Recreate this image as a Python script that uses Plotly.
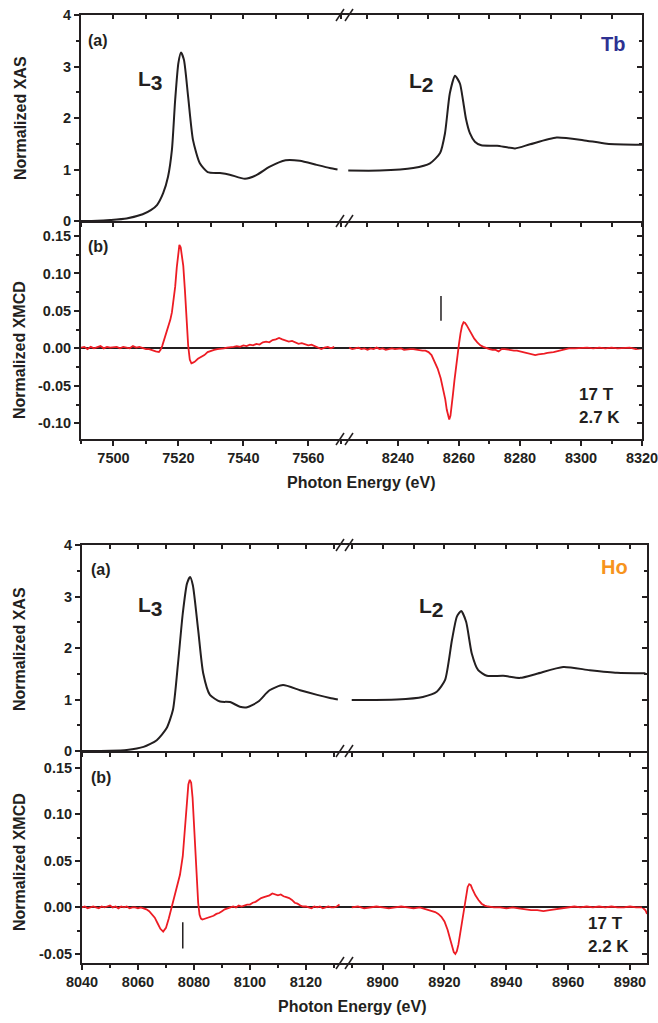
import plotly.graph_objects as go

# ---------------- DATA ----------------
# Tb, panel (a): normalized XAS (energy eV, value)
tb_xas_l3 = [(7490, 0.0), (7495, 0.005), (7499, 0.02), (7504, 0.05), (7509, 0.13), (7511.5, 0.21),
             (7513.4, 0.31), (7515.3, 0.54), (7516.8, 0.86), (7518, 1.38), (7519, 2.35), (7520, 3.07),
             (7520.8, 3.27), (7521.7, 3.13), (7523, 2.41), (7524.5, 1.57), (7526.6, 1.12), (7529, 0.95),
             (7532.8, 0.93), (7535.8, 0.90), (7540.5, 0.82), (7544, 0.89), (7548, 1.05), (7553, 1.18),
             (7557.4, 1.17), (7562.6, 1.09), (7566.6, 1.03), (7569, 1.0)]
tb_xas_l2 = [(8223.7, 0.98), (8234, 0.98), (8245, 1.03), (8250.5, 1.12), (8253.8, 1.32), (8255.4, 1.70),
             (8257, 2.48), (8258.7, 2.82), (8260.3, 2.67), (8261.3, 2.35), (8262.3, 1.98), (8263.6, 1.70),
             (8265.2, 1.54), (8267.3, 1.47), (8272.5, 1.46), (8278.4, 1.41), (8283.3, 1.49), (8292, 1.62),
             (8300.7, 1.57), (8308.5, 1.50), (8320, 1.48)]
# Tb, panel (b): normalized XMCD
tb_xmcd_l3 = [(7490, 0.001), (7491, 0.002), (7492, -0.001), (7493, 0.002), (7494, 0.000), (7495, 0.001),
              (7496, 0.003), (7497, 0.000), (7498, 0.002), (7499, 0.001), (7500, 0.001), (7501, 0.002),
              (7502, 0.000), (7503, 0.002), (7504, 0.001), (7505, 0.000), (7506, 0.003), (7507, 0.001),
              (7508, 0.002), (7509, 0.000), (7510, -0.001), (7511, -0.001), (7512, -0.003), (7513, -0.004),
              (7514, -0.005), (7514.5, -0.002), (7515, 0.003), (7515.5, 0.010), (7516, 0.016), (7516.5, 0.022),
              (7517, 0.030), (7517.5, 0.038), (7518, 0.048), (7518.5, 0.062), (7519, 0.082), (7519.5, 0.108),
              (7520, 0.132), (7520.3, 0.138), (7520.7, 0.135), (7521, 0.127), (7521.5, 0.110), (7522, 0.078),
              (7522.5, 0.040), (7523, 0.004), (7523.5, -0.015), (7524, -0.020), (7524.5, -0.019), (7525, -0.018),
              (7526, -0.014), (7527, -0.012), (7528, -0.009), (7529, -0.005), (7530, -0.003), (7531, -0.002),
              (7532, -0.001), (7533, -0.001), (7534, 0.000), (7535, 0.001), (7536, 0.001), (7537, 0.002),
              (7538, 0.003), (7539, 0.002), (7540, 0.004), (7541, 0.003), (7542, 0.005), (7543, 0.004),
              (7544, 0.006), (7545, 0.005), (7546, 0.008), (7547, 0.009), (7548, 0.008), (7549, 0.011),
              (7550, 0.012), (7551, 0.014), (7552, 0.012), (7553, 0.011), (7554, 0.009), (7555, 0.010),
              (7556, 0.008), (7557, 0.006), (7558, 0.007), (7559, 0.005), (7560, 0.004), (7561, 0.005),
              (7562, 0.003), (7563, 0.002), (7564, -0.001), (7565, 0.001), (7566, 0.002), (7567, 0.000),
              (7568, 0.002)]
tb_xmcd_l2 = [(8224, 0.001), (8225, -0.001), (8226, 0.000), (8227, 0.001), (8228, -0.001), (8229, 0.000),
              (8230, -0.002), (8231, 0.000), (8232, -0.001), (8233, 0.001), (8234, -0.001), (8235, 0.000),
              (8236, -0.002), (8237, -0.001), (8238, 0.000), (8239, -0.001), (8240, -0.001), (8241, 0.000),
              (8242, -0.002), (8243, -0.001), (8244, -0.001), (8245, -0.001), (8246, -0.002), (8247, -0.002),
              (8248, -0.003), (8249, -0.003), (8250, -0.005), (8251, -0.009), (8252, -0.017), (8253, -0.027),
              (8254, -0.040), (8255, -0.057), (8255.5, -0.068), (8256, -0.082), (8256.5, -0.093), (8256.8, -0.095),
              (8257.2, -0.090), (8257.6, -0.078), (8258, -0.062), (8258.5, -0.043), (8259, -0.025), (8259.5, -0.008),
              (8260, 0.006), (8260.5, 0.020), (8261, 0.030), (8261.5, 0.035), (8262, 0.034), (8262.5, 0.031),
              (8263, 0.027), (8264, 0.020), (8265, 0.013), (8266, 0.008), (8267, 0.004), (8268, 0.002),
              (8269, 0.000), (8270, -0.001), (8271, -0.002), (8272, -0.002), (8273, -0.004), (8274, -0.001),
              (8275, -0.001), (8276, -0.002), (8277, -0.002), (8278, -0.003), (8279, -0.003), (8280, -0.004),
              (8281, -0.005), (8282, -0.006), (8283, -0.007), (8284, -0.008), (8285, -0.009), (8286, -0.008),
              (8287, -0.008), (8288, -0.007), (8289, -0.006), (8290, -0.006), (8291, -0.005), (8292, -0.004),
              (8293, -0.003), (8294, -0.002), (8295, -0.001), (8296, 0.000), (8298, 0.000), (8300, 0.001),
              (8302, 0.001), (8304, 0.000), (8306, 0.001), (8308, 0.000), (8310, 0.001), (8312, 0.000),
              (8314, 0.000), (8316, 0.001), (8318, -0.001), (8320, 0.000)]
tb_marker = [(8254.1, 0.037), (8254.1, 0.070)]

# Ho, panel (a): normalized XAS
ho_xas_l3 = [(8040, 0.0), (8050, 0.005), (8056, 0.02), (8062, 0.08), (8066.7, 0.21), (8070.2, 0.44),
             (8072.5, 0.80), (8074.3, 1.70), (8076, 2.67), (8077.5, 3.25), (8078.6, 3.38), (8079.6, 3.22),
             (8081.5, 2.35), (8083.3, 1.51), (8085.7, 1.09), (8089.3, 0.96), (8092.9, 0.95), (8096.4, 0.86),
             (8099, 0.85), (8103, 0.96), (8107, 1.18), (8111.8, 1.28), (8117.9, 1.18), (8124, 1.09),
             (8128.6, 1.03), (8131.4, 1.0)]
ho_xas_l2 = [(8890, 0.99), (8904.6, 1.0), (8913, 1.05), (8917.5, 1.15), (8920.2, 1.38), (8922.4, 2.15),
             (8924, 2.61), (8925.4, 2.72), (8927, 2.51), (8928.8, 1.90), (8930.9, 1.57), (8933.7, 1.46),
             (8939, 1.46), (8944.5, 1.42), (8949.9, 1.50), (8958.4, 1.63), (8967, 1.57), (8975.8, 1.52),
             (8985, 1.51)]
# Ho, panel (b): normalized XMCD
ho_xmcd_l3 = [(8040, 0.000), (8041, 0.001), (8042, -0.001), (8043, 0.000), (8044, 0.001), (8045, 0.000),
              (8046, -0.001), (8047, 0.001), (8048, 0.000), (8049, 0.001), (8050, 0.002), (8051, 0.000),
              (8052, 0.001), (8053, -0.001), (8054, 0.001), (8055, 0.000), (8056, 0.001), (8057, -0.001),
              (8058, 0.000), (8059, 0.000), (8060, -0.001), (8061, 0.000), (8062, -0.001), (8063, -0.002),
              (8064, -0.004), (8065, -0.007), (8066, -0.011), (8067, -0.017), (8068, -0.023), (8069, -0.026),
              (8070, -0.022), (8071, -0.012), (8072, 0.000), (8073, 0.012), (8074, 0.024), (8075, 0.035),
              (8076, 0.055), (8077, 0.092), (8077.5, 0.115), (8078, 0.132), (8078.5, 0.137), (8079, 0.134),
              (8079.5, 0.118), (8080, 0.090), (8080.5, 0.055), (8081, 0.025), (8081.5, 0.005), (8082, -0.008),
              (8082.5, -0.012), (8083, -0.013), (8084, -0.012), (8085, -0.011), (8086, -0.010), (8087, -0.009),
              (8088, -0.007), (8089, -0.006), (8090, -0.004), (8091, -0.002), (8092, -0.001), (8093, 0.000),
              (8094, 0.001), (8095, 0.000), (8096, 0.002), (8097, 0.001), (8098, 0.002), (8099, 0.003),
              (8100, 0.003), (8101, 0.005), (8102, 0.006), (8103, 0.008), (8104, 0.010), (8105, 0.011),
              (8106, 0.012), (8107, 0.013), (8108, 0.015), (8109, 0.014), (8110, 0.013), (8111, 0.014),
              (8112, 0.012), (8113, 0.011), (8114, 0.010), (8115, 0.008), (8116, 0.005), (8117, 0.004),
              (8118, 0.002), (8119, 0.001), (8120, 0.001), (8121, 0.000), (8122, -0.001), (8123, 0.001),
              (8124, 0.000), (8125, 0.001), (8126, -0.001), (8127, 0.000), (8128, 0.001), (8129, 0.000),
              (8130, 0.000), (8131, 0.001), (8132, 0.003)]
ho_xmcd_l2 = [(8890, 0.000), (8892, 0.001), (8894, -0.001), (8896, 0.000), (8898, 0.001), (8900, 0.000),
              (8902, -0.001), (8904, 0.000), (8906, 0.001), (8908, 0.000), (8910, -0.001), (8912, 0.000),
              (8913, -0.001), (8914, -0.002), (8915, -0.003), (8916, -0.004), (8917, -0.005), (8918, -0.007),
              (8919, -0.010), (8920, -0.015), (8921, -0.024), (8922, -0.036), (8922.5, -0.043), (8923, -0.048),
              (8923.5, -0.050), (8924, -0.047), (8924.5, -0.040), (8925, -0.030), (8925.5, -0.019), (8926, -0.008),
              (8926.5, 0.004), (8927, 0.015), (8927.5, 0.022), (8928, 0.025), (8928.5, 0.024), (8929, 0.020),
              (8930, 0.013), (8931, 0.008), (8932, 0.004), (8933, 0.002), (8934, 0.001), (8936, 0.000),
              (8938, 0.000), (8940, -0.001), (8942, 0.000), (8944, -0.001), (8946, -0.002), (8948, -0.003),
              (8950, -0.003), (8952, -0.004), (8954, -0.003), (8956, -0.002), (8958, -0.001), (8960, 0.000),
              (8962, 0.001), (8964, 0.000), (8966, 0.001), (8968, 0.000), (8970, 0.001), (8972, 0.000),
              (8974, 0.001), (8976, 0.000), (8978, 0.000), (8980, 0.001), (8982, 0.000), (8984, 0.000),
              (8985, -0.003), (8985.5, -0.007)]
ho_marker = [(8076.0, -0.044), (8076.0, -0.016)]

# tick values / labels
xas_ticks = [0, 1, 2, 3, 4]
xas_ticktext = ["0", "1", "2", "3", "4"]
tb_xmcd_ticks = [-0.10, -0.05, 0.0, 0.05, 0.10, 0.15]
tb_xmcd_ticktext = ["-0.10", "-0.05", "0.00", "0.05", "0.10", "0.15"]
ho_xmcd_ticks = [-0.05, 0.0, 0.05, 0.10, 0.15]
ho_xmcd_ticktext = ["-0.05", "0.00", "0.05", "0.10", "0.15"]
tb_x_ticks_l = [7500, 7520, 7540, 7560]
tb_x_ticks_r = [8240, 8260, 8280, 8300, 8320]
ho_x_ticks_l = [8040, 8060, 8080, 8100, 8120]
ho_x_ticks_r = [8900, 8920, 8940, 8960, 8980]

# ---------------- STYLE / LAYOUT ----------------
W, H = 658, 1023
FONT = "Liberation Sans, Arial, sans-serif"
BLACK = "#231F20"
RED = "#ED1C24"
TB_COLOR = "#2E3192"
HO_COLOR = "#F7941D"


def fx(p):
    return p / W


def fy(p):
    return 1 - p / H


def ref(kind, n):
    return kind if n == 1 else f"{kind}{n}"


def key(kind, n):
    return f"{kind}axis" if n == 1 else f"{kind}axis{n}"


fig = go.Figure()
layout_axes = {}
counter = [0]


def nid():
    counter[0] += 1
    return counter[0]


TICKFONT = dict(family=FONT, size=14.5, color=BLACK, weight="bold")

blocks = [
    dict(
        xdom={"L": (81, 344), "R": (344, 642)},
        xrange={"L": [7490, 7571], "R": [8222.3, 8320]},
        ydom={"a": (15, 221), "b": (221, 439)},
        yrange={"a": [0, 4], "b": [-0.121, 0.17]},
        xticks={"L": tb_x_ticks_l, "R": tb_x_ticks_r},
        yticks={"a": (xas_ticks, xas_ticktext), "b": (tb_xmcd_ticks, tb_xmcd_ticktext)},
        xas={"L": tb_xas_l3, "R": tb_xas_l2},
        xmcd={"L": tb_xmcd_l3, "R": tb_xmcd_l2},
        marker=("R", tb_marker),
    ),
    dict(
        xdom={"L": (82, 344), "R": (344, 647)},
        xrange={"L": [8040, 8133.6], "R": [8887.5, 8985.5]},
        ydom={"a": (545, 751), "b": (751, 963)},
        yrange={"a": [0, 4], "b": [-0.0597, 0.168]},
        xticks={"L": ho_x_ticks_l, "R": ho_x_ticks_r},
        yticks={"a": (xas_ticks, xas_ticktext), "b": (ho_xmcd_ticks, ho_xmcd_ticktext)},
        xas={"L": ho_xas_l3, "R": ho_xas_l2},
        xmcd={"L": ho_xmcd_l3, "R": ho_xmcd_l2},
        marker=("L", ho_marker),
    ),
]


def curve(pts, xref, yref, color, width, spline=False, opacity=1.0):
    line = dict(color=color, width=width)
    if spline:
        line.update(shape="spline", smoothing=0.6)
    return go.Scatter(x=[p[0] for p in pts], y=[p[1] for p in pts], mode="lines", line=line,
                      xaxis=xref, yaxis=yref, showlegend=False, hoverinfo="skip", opacity=opacity)


for b in blocks:
    for panel in ("a", "b"):
        for seg in ("L", "R"):
            k = nid()
            xd = [fx(b["xdom"][seg][0]), fx(b["xdom"][seg][1])]
            yd = [fy(b["ydom"][panel][1]), fy(b["ydom"][panel][0])]
            xr = b["xrange"][seg]
            yr = b["yrange"][panel]
            tv, tt = b["yticks"][panel]
            ydt = 0.5 if panel == "a" else 0.025

            xa = dict(domain=xd, range=xr, anchor=ref("y", k), showline=True, linecolor=BLACK,
                      linewidth=2, showgrid=False, zeroline=False, ticks="outside", tickcolor=BLACK,
                      tickwidth=1.5, tickfont=TICKFONT, ticklabeloverflow="allow")
            if panel == "b":
                xa.update(tickmode="array", tickvals=b["xticks"][seg],
                          ticktext=[str(v) for v in b["xticks"][seg]], ticklen=5, showticklabels=True,
                          minor=dict(tickmode="linear", tick0=0, dtick=10, ticklen=3, ticks="outside",
                                     tickcolor=BLACK, tickwidth=1.5, showgrid=False))
            else:
                xa.update(tickmode="linear", tick0=0, dtick=10, ticklen=4, showticklabels=False)
            layout_axes[key("x", k)] = xa

            ya = dict(domain=yd, range=yr, anchor=ref("x", k), showgrid=False, tickfont=TICKFONT,
                      zeroline=(panel == "b"), zerolinecolor=BLACK, zerolinewidth=1.5)
            if seg == "L":
                ya.update(showline=True, linecolor=BLACK, linewidth=2, ticks="outside", tickcolor=BLACK,
                          tickwidth=1.5, ticklen=5, tickmode="array", tickvals=tv, ticktext=tt,
                          minor=dict(tickmode="linear", tick0=0, dtick=ydt, ticklen=3, ticks="outside",
                                     tickcolor=BLACK, tickwidth=1.5, showgrid=False))
            else:
                ya.update(showline=False, ticks="", showticklabels=False)
            layout_axes[key("y", k)] = ya

            if panel == "a":
                pts, col, wid, spl = b["xas"][seg], BLACK, 2, True
            else:
                pts, col, wid, spl = b["xmcd"][seg], RED, 1.8, False
            fig.add_trace(curve(pts, ref("x", k), ref("y", k), col, wid, spl))
            if panel == "b":
                mseg, mpts = b["marker"]
                if mseg == seg:
                    fig.add_trace(curve(mpts, ref("x", k), ref("y", k), BLACK, 1.5))

            # overlay: top x axis with inward ticks (panel a)
            if panel == "a":
                t = nid()
                layout_axes[key("x", t)] = dict(overlaying=ref("x", k), side="top", anchor=ref("y", k),
                                               range=xr, showline=True, linecolor=BLACK, linewidth=2,
                                               ticks="inside", tickmode="linear", tick0=0, dtick=10,
                                               ticklen=4, tickwidth=1.5, tickcolor=BLACK,
                                               showticklabels=False, showgrid=False, zeroline=False)
                fig.add_trace(curve(pts, ref("x", t), ref("y", k), col, wid, spl, opacity=0))
            # overlay: right y axis with inward ticks (right segment)
            if seg == "R":
                r = nid()
                layout_axes[key("y", r)] = dict(overlaying=ref("y", k), side="right", anchor=ref("x", k),
                                               range=yr, showline=True, linecolor=BLACK, linewidth=2,
                                               ticks="inside", tickmode="array", tickvals=tv, ticklen=5,
                                               tickwidth=1.5, tickcolor=BLACK, showticklabels=False,
                                               showgrid=False, zeroline=False,
                                               minor=dict(tickmode="linear", tick0=0, dtick=ydt, ticklen=3,
                                                          ticks="inside", tickcolor=BLACK, tickwidth=1.5,
                                                          showgrid=False))
                fig.add_trace(curve(pts, ref("x", k), ref("y", r), col, wid, spl, opacity=0))

annotations = []


def txt(text, x, y, size, color=BLACK, angle=0, xanchor="center"):
    annotations.append(dict(text=text, x=fx(x), y=fy(y), xref="paper", yref="paper", showarrow=False,
                            xanchor=xanchor, yanchor="middle", textangle=angle,
                            font=dict(family=FONT, size=size, color=color, weight="bold")))


def edge(letter, sub):
    return f"{letter}<sub><span style='font-size:21px'>{sub}</span></sub>"


# Tb block texts
txt("(a)", 98, 41, 16)
txt("(b)", 98, 246, 16)
txt(edge("L", "3"), 150, 80, 21)
txt(edge("L", "2"), 421, 82, 21)
txt("Tb", 613, 44, 20, TB_COLOR)
txt("17 T", 577, 394, 17, xanchor="left")
txt("2.7 K", 577, 417, 17, xanchor="left")
txt("Normalized XAS", 20, 118, 16, angle=-90)
txt("Normalized XMCD", 20, 350, 16, angle=-90)
txt("Photon Energy (eV)", 361, 482, 16)
# Ho block texts
txt("(a)", 101, 569, 16)
txt("(b)", 101, 777, 16)
txt(edge("L", "3"), 150, 606, 21)
txt(edge("L", "2"), 431, 607, 21)
txt("Ho", 614, 567, 20, HO_COLOR)
txt("17 T", 586, 923, 17, xanchor="left")
txt("2.2 K", 586, 946, 17, xanchor="left")
txt("Normalized XAS", 19, 649, 16, angle=-90)
txt("Normalized XMCD", 19, 862, 16, angle=-90)
txt("Photon Energy (eV)", 352, 1006, 16)

# axis-break marks "//"
shapes = []
for ybreak in (15, 221, 439, 545, 751, 963):
    for x0 in (336, 345):
        shapes.append(dict(type="line", xref="paper", yref="paper", x0=fx(x0), y0=fy(ybreak + 6),
                           x1=fx(x0 + 8), y1=fy(ybreak - 6), line=dict(color=BLACK, width=1.5)))

fig.update_layout(
    width=W, height=H, margin=dict(l=0, r=0, t=0, b=0, pad=0, autoexpand=False),
    paper_bgcolor="white", plot_bgcolor="white",
    font=dict(family=FONT, size=14, color=BLACK),
    showlegend=False, annotations=annotations, shapes=shapes,
    **layout_axes,
)

fig.write_html("out.html", config={"displayModeBar": False, "responsive": False},
               post_script="document.body.style.margin='0';document.body.style.overflow='hidden';")
